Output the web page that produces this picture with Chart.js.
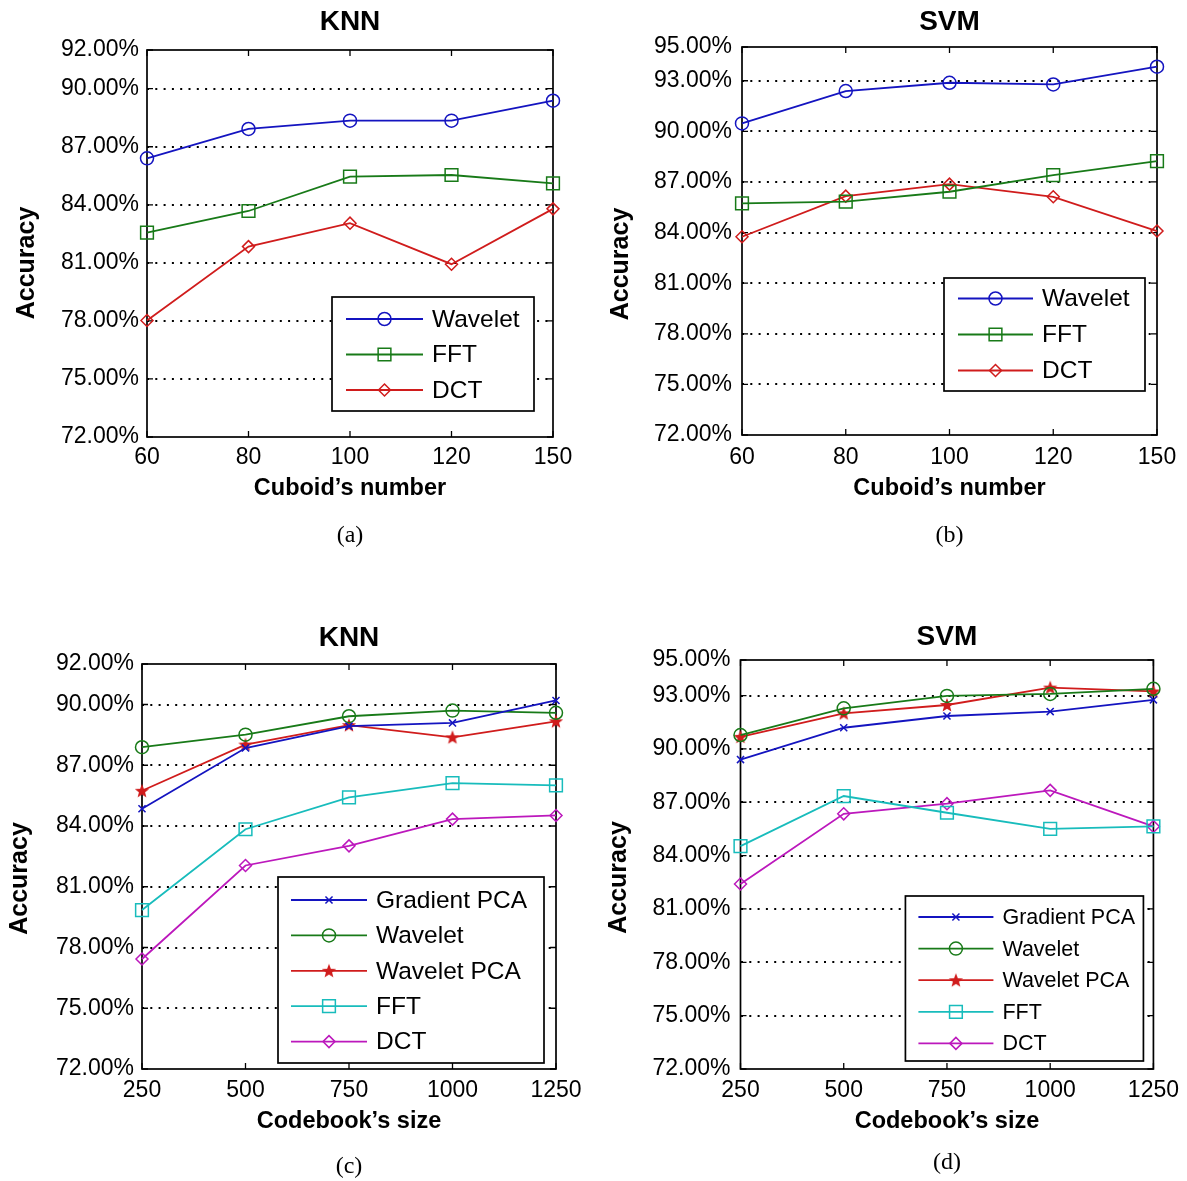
<!DOCTYPE html>
<html>
<head>
<meta charset="utf-8">
<script src="https://cdn.jsdelivr.net/npm/chart.js@4.4.0/dist/chart.umd.min.js"></script>
<style>
  html, body { margin: 0; padding: 0; background: #fff; }
  canvas { position: absolute; }
</style>
</head>
<body>
<canvas id="chartA" width="593" height="560" style="left:0;top:0"></canvas>
<canvas id="chartB" width="593" height="560" style="left:594px;top:0"></canvas>
<canvas id="chartC" width="593" height="581" style="left:0;top:600px"></canvas>
<canvas id="chartD" width="593" height="581" style="left:594px;top:600px"></canvas>
<script>
// x categories
var cuboidNumbers = ['60', '80', '100', '120', '150'];
var codebookSizes = ['250', '500', '750', '1000', '1250'];
// y tick labels
var knnTicks = [72, 75, 78, 81, 84, 87, 90, 92];
var svmTicks = [72, 75, 78, 81, 84, 87, 90, 93, 95];

// (a) KNN vs cuboid's number
var knnCuboidWavelet = [86.40, 87.92, 88.35, 88.35, 89.38];
var knnCuboidFFT = [82.56, 83.68, 85.46, 85.54, 85.11];
var knnCuboidDCT = [78.02, 81.84, 83.05, 80.93, 83.79];
// (b) SVM vs cuboid's number
var svmCuboidWavelet = [90.47, 92.39, 92.88, 92.78, 93.83];
var svmCuboidFFT = [85.73, 85.83, 86.42, 87.41, 88.24];
var svmCuboidDCT = [83.75, 86.16, 86.87, 86.12, 84.09];
// (c) KNN vs codebook's size
var knnBookGradPCA = [84.85, 87.85, 88.93, 89.09, 90.20];
var knnBookWavelet = [87.89, 88.51, 89.42, 89.70, 89.59];
var knnBookWaveletPCA = [85.74, 88.02, 88.98, 88.38, 89.17];
var knnBookFFT = [79.85, 83.84, 85.41, 86.12, 86.01];
var knnBookDCT = [77.43, 82.05, 83.02, 84.34, 84.52];
// (d) SVM vs codebook's size
var svmBookGradPCA = [89.40, 91.19, 91.85, 92.10, 92.76];
var svmBookWavelet = [90.78, 92.28, 92.98, 93.09, 93.38];
var svmBookWaveletPCA = [90.68, 92.00, 92.47, 93.45, 93.23];
var svmBookFFT = [84.53, 87.35, 86.41, 85.50, 85.64];
var svmBookDCT = [82.40, 86.35, 86.92, 87.67, 85.64];

var BLUE = '#1414c0', GREEN = '#187a18', RED = '#d01c1c', CYAN = '#18bcbc', MAGENTA = '#bc18bc';
var SANS = '"Liberation Sans", Arial, sans-serif';

Chart.defaults.font.family = SANS;
Chart.defaults.color = '#000';

// filled star marker (matlab style)
function starMarker(color) {
    var c = document.createElement('canvas');
    c.width = 16; c.height = 16;
    var g = c.getContext('2d');
    g.fillStyle = color;
    g.beginPath();
    for (var i = 0; i < 10; i++) {
        var r = i % 2 ? 3.2 : 7.5;
        var a = -Math.PI / 2 + i * Math.PI / 5;
        g.lineTo(8 + r * Math.cos(a), 8.5 + r * Math.sin(a));
    }
    g.closePath();
    g.fill();
    return c;
}

function series(label, data, color, style, radius) {
    return {
        label: label,
        data: data,
        borderColor: color,
        backgroundColor: 'rgba(0,0,0,0)',
        pointBorderColor: color,
        pointBackgroundColor: 'rgba(0,0,0,0)',
        pointStyle: style,
        pointRadius: radius,
        pointBorderWidth: 1.5,
        borderWidth: 1.8,
        tension: 0,
        clip: false
    };
}

// box around plot + inward tick marks + rotated y title
var framePlugin = {
    id: 'frame',
    beforeDatasetsDraw: function (chart, args, o) {
        var a = chart.chartArea, ctx = chart.ctx;
        var xs = chart.scales.x, ys = chart.scales.y;
        ctx.save();
        ctx.strokeStyle = '#000';
        ctx.lineWidth = 1.3;
        ctx.beginPath();
        xs.ticks.forEach(function (t, i) {
            var x = xs.getPixelForTick(i);
            ctx.moveTo(x, a.bottom); ctx.lineTo(x, a.bottom - 6);
            ctx.moveTo(x, a.top); ctx.lineTo(x, a.top + 6);
        });
        ys.ticks.forEach(function (t) {
            var y = ys.getPixelForValue(t.value);
            ctx.moveTo(a.left, y); ctx.lineTo(a.left + 6, y);
            ctx.moveTo(a.right, y); ctx.lineTo(a.right - 6, y);
        });
        ctx.stroke();
        ctx.lineWidth = 1.7;
        ctx.strokeRect(a.left, a.top, a.right - a.left, a.bottom - a.top);

        ctx.translate(o.x, (a.top + a.bottom) / 2 + o.shift);
        ctx.rotate(-Math.PI / 2);
        ctx.fillStyle = '#000';
        ctx.font = 'bold 25px ' + SANS;
        ctx.textAlign = 'center';
        ctx.textBaseline = 'middle';
        ctx.fillText('Accuracy', 0, 0);
        ctx.restore();
    }
};

// legend box inside the plot
var boxLegendPlugin = {
    id: 'boxLegend',
    afterDatasetsDraw: function (chart, args, o) {
        var a = chart.chartArea, ctx = chart.ctx;
        var L = a.right - o.dx - o.w, T = a.bottom - o.dy - o.h;
        ctx.save();
        ctx.fillStyle = '#fff';
        ctx.fillRect(L, T, o.w, o.h);
        ctx.strokeStyle = '#000';
        ctx.lineWidth = 1.7;
        ctx.strokeRect(L, T, o.w, o.h);
        ctx.font = o.font + 'px ' + SANS;
        ctx.textBaseline = 'middle';
        ctx.textAlign = 'left';
        chart.data.datasets.forEach(function (ds, i) {
            var y = T + o.first + i * o.row;
            ctx.strokeStyle = ds.borderColor;
            ctx.lineWidth = ds.borderWidth;
            ctx.beginPath();
            ctx.moveTo(L + o.lineStart, y);
            ctx.lineTo(L + o.lineEnd, y);
            ctx.stroke();
            ctx.fillStyle = 'rgba(0,0,0,0)';
            ctx.lineWidth = ds.pointBorderWidth;
            Chart.helpers.drawPoint(ctx, {
                pointStyle: ds.pointStyle, radius: ds.pointRadius,
                borderWidth: ds.pointBorderWidth, rotation: 0
            }, L + (o.lineStart + o.lineEnd) / 2, y);
            ctx.fillStyle = '#000';
            ctx.fillText(ds.label, L + o.textX, y + 1);
        });
        ctx.restore();
    }
};

function makeChart(id, cfg) {
    var last = cfg.yTicks.length - 1;
    return new Chart(document.getElementById(id), {
        type: 'line',
        data: { labels: cfg.labels, datasets: cfg.datasets },
        options: {
            responsive: false,
            animation: false,
            events: [],
            layout: { padding: { left: 0, right: cfg.padRight, top: 0, bottom: 0 } },
            plugins: {
                legend: { display: false },
                tooltip: { enabled: false },
                title: {
                    display: true, fullSize: false, text: cfg.title, color: '#000',
                    font: { size: 28, weight: 'bold' },
                    padding: { top: cfg.titleTop, bottom: cfg.titleBottom }
                },
                subtitle: {
                    display: true, fullSize: false, position: 'bottom', text: cfg.caption, color: '#000',
                    font: { family: '"Liberation Serif", "Times New Roman", serif', size: 24 },
                    padding: { top: cfg.capTop, bottom: cfg.capBottom }
                },
                frame: { x: cfg.yTitleX, shift: cfg.yTitleShift },
                boxLegend: cfg.legend
            },
            scales: {
                x: {
                    type: 'category',
                    offset: false,
                    grid: { display: false, drawTicks: false },
                    border: { display: false },
                    ticks: { color: '#000', font: { size: 23 }, padding: cfg.xPad, maxRotation: 0, autoSkip: false },
                    title: {
                        display: true, text: cfg.xTitle, color: '#000',
                        font: { size: 23.5, weight: 'bold' },
                        padding: { top: 0, bottom: cfg.xTitleBottom }
                    },
                    afterFit: function (s) { s.height = cfg.xHeight; }
                },
                y: {
                    min: cfg.yTicks[0],
                    max: cfg.yTicks[last],
                    afterBuildTicks: function (s) {
                        s.ticks = cfg.yTicks.map(function (v) { return { value: v }; });
                    },
                    grid: {
                        drawTicks: false,
                        lineWidth: 2,
                        color: function (c) {
                            return (c.index === 0 || c.index === last) ? 'rgba(0,0,0,0)' : '#000';
                        }
                    },
                    border: { display: false, dash: [2, 6.3] },
                    ticks: {
                        color: '#000', font: { size: 23 }, padding: cfg.yPad,
                        callback: function (v) { return Number(v).toFixed(2) + '%'; }
                    },
                    title: { display: false },
                    afterFit: function (s) { s.width = cfg.yWidth; }
                }
            }
        },
        plugins: [framePlugin, boxLegendPlugin]
    });
}

var cuboidTitle = 'Cuboid\u2019s number';
var bookTitle = 'Codebook\u2019s size';

makeChart('chartA', {
    title: 'KNN', caption: '(a)', labels: cuboidNumbers, yTicks: knnTicks, xTitle: cuboidTitle,
    datasets: [
        series('Wavelet', knnCuboidWavelet, BLUE, 'circle', 6.5),
        series('FFT', knnCuboidFFT, GREEN, 'rect', 9),
        series('DCT', knnCuboidDCT, RED, 'rectRot', 6)
    ],
    yWidth: 147, padRight: 40, titleTop: 5, titleBottom: 11.4,
    xHeight: 73, xPad: 7, xTitleBottom: 7.8, capTop: 11.6, capBottom: 9.6,
    yPad: 8, yTitleX: 27.5, yTitleShift: 19.5,
    legend: { w: 202, h: 114, dx: 19, dy: 26, first: 22, row: 35.5, lineStart: 14, lineEnd: 91, textX: 100, font: 24.5 }
});

makeChart('chartB', {
    title: 'SVM', caption: '(b)', labels: cuboidNumbers, yTicks: svmTicks, xTitle: cuboidTitle,
    datasets: [
        series('Wavelet', svmCuboidWavelet, BLUE, 'circle', 6.5),
        series('FFT', svmCuboidFFT, GREEN, 'rect', 9),
        series('DCT', svmCuboidDCT, RED, 'rectRot', 6)
    ],
    yWidth: 148, padRight: 30, titleTop: 5, titleBottom: 8.4,
    xHeight: 75, xPad: 9, xTitleBottom: 7.8, capTop: 11.6, capBottom: 9.6,
    yPad: 10, yTitleX: 27.5, yTitleShift: 23,
    legend: { w: 201, h: 113, dx: 12, dy: 44, first: 20.5, row: 36, lineStart: 14, lineEnd: 89, textX: 98, font: 24.5 }
});

makeChart('chartC', {
    title: 'KNN', caption: '(c)', labels: codebookSizes, yTicks: knnTicks, xTitle: bookTitle,
    datasets: [
        series('Gradient PCA', knnBookGradPCA, BLUE, 'crossRot', 5),
        series('Wavelet', knnBookWavelet, GREEN, 'circle', 6.5),
        series('Wavelet PCA', knnBookWaveletPCA, RED, starMarker(RED), 7),
        series('FFT', knnBookFFT, CYAN, 'rect', 9),
        series('DCT', knnBookDCT, MAGENTA, 'rectRot', 6)
    ],
    yWidth: 142, padRight: 37, titleTop: 21, titleBottom: 9.4,
    xHeight: 67, xPad: 8, xTitleBottom: 0.8, capTop: 16.2, capBottom: 0,
    yPad: 8, yTitleX: 20, yTitleShift: 12,
    legend: { w: 266, h: 186, dx: 12, dy: 6, first: 23, row: 35.4, lineStart: 13, lineEnd: 89, textX: 98, font: 24.5 }
});

makeChart('chartD', {
    title: 'SVM', caption: '(d)', labels: codebookSizes, yTicks: svmTicks, xTitle: bookTitle,
    datasets: [
        series('Gradient PCA', svmBookGradPCA, BLUE, 'crossRot', 5),
        series('Wavelet', svmBookWavelet, GREEN, 'circle', 6.5),
        series('Wavelet PCA', svmBookWaveletPCA, RED, starMarker(RED), 7),
        series('FFT', svmBookFFT, CYAN, 'rect', 9),
        series('DCT', svmBookDCT, MAGENTA, 'rectRot', 6)
    ],
    yWidth: 146.5, padRight: 32, titleTop: 20, titleBottom: 6.4,
    xHeight: 67, xPad: 8, xTitleBottom: 0.8, capTop: 12.6, capBottom: 3.6,
    yPad: 10, yTitleX: 25.6, yTitleShift: 13,
    legend: { w: 238, h: 165, dx: 10, dy: 8, first: 21, row: 31.6, lineStart: 13, lineEnd: 88, textX: 97, font: 21.5 }
});
</script>
</body>
</html>
